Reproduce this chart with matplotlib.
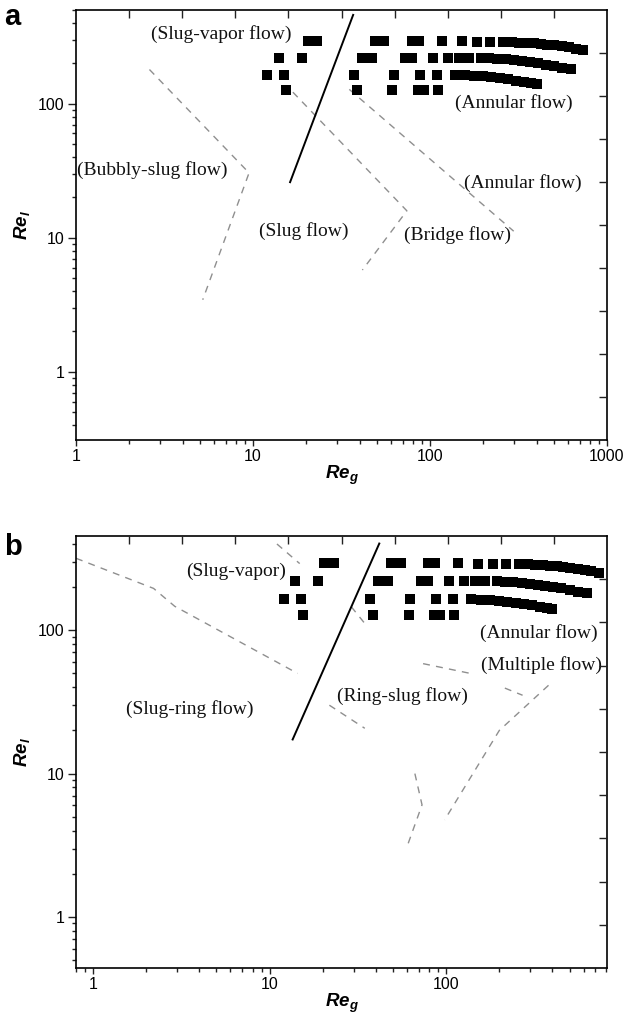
import numpy as np
import matplotlib
matplotlib.use("Agg")
import matplotlib.pyplot as plt
from matplotlib.ticker import FixedLocator, LogLocator, NullFormatter

plt.rcParams['font.family'] = ['Liberation Sans', 'DejaVu Sans']
plt.rcParams['mathtext.default'] = 'regular'

nan = np.nan

# measured points (Re_g, Re_l), same data on both maps
row1_reg = [20.4, 23.1, 48.9, 55.2, 79, 87, 117, 151, 184, 219, 260,
            290, 320, 352, 386, 422, 460, 505, 555, 610, 665, 730]
row1_rel = [294, 294, 294, 294, 294, 294, 293, 292, 291, 290, 289,
            288, 286, 284, 282, 279, 276, 272, 268, 263, 258, 252]
row2_reg = [14.0, 18.9, 41.3, 47.0, 72, 79, 104, 126, 146, 166, 195,
            215, 240, 268, 298, 330, 365, 405, 450, 500, 560, 630]
row2_rel = [221, 221, 221, 221, 221, 221, 221, 221, 221, 220, 219,
            218, 216, 214, 211, 208, 204, 200, 196, 191, 186, 181]
row3_reg = [12.0, 15.0, 37.2, 62.6, 87.7, 110, 138, 158,
            178, 198, 222, 248, 276, 306, 340, 372, 400]
row3_rel = [164, 164, 164, 164, 164, 164, 164, 163,
            162, 160, 158, 155, 152, 149, 146, 143, 140]
row4_reg = [15.4, 38.6, 61.3, 85, 92, 111]
row4_rel = [127, 127, 127, 127, 127, 127]

# panel a: transition boundaries
a_bubbly_reg = [2.6, 9.5, 5.2]
a_bubbly_rel = [180, 30.5, 3.45]
a_slug_reg = [16.8, 74, 41.5]
a_slug_rel = [122, 15.9, 5.75]
a_bridge_reg = [35, 297]
a_bridge_rel = [128, 11.2]
a_solid_reg = [16.2, 36.8]
a_solid_rel = [26, 460]

a_labels = ['(Slug-vapor flow)', '(Annular flow)', '(Bubbly-slug flow)',
            '(Annular flow)', '(Slug flow)', '(Bridge flow)']
a_label_reg = [6.6, 298, 2.71, 335, 19.4, 143]
a_label_rel = [330, 101, 31.9, 25.8, 11.3, 10.4]

# panel b: transition boundaries
b_ring_reg = [0.8, 2.2, 2.9, 14.4]
b_ring_rel = [318, 196, 147, 50]
b_vapor_reg = [11.0, 14.8, nan, 29, 36]
b_vapor_rel = [400, 292, nan, 146, 105]
b_ringslug_reg = [21.8, 34.6]
b_ringslug_rel = [30, 20.7]
b_multi_reg = [74, 145, nan, 215, 271]
b_multi_rel = [58.5, 49.3, nan, 39.5, 35.2]
b_multi2_reg = [380, 200, 98]
b_multi2_rel = [41.3, 20, 4.75]
b_v_reg = [66.5, 73, 59.5]
b_v_rel = [10, 6.05, 3.0]
b_solid_reg = [13.5, 41.8]
b_solid_rel = [17.3, 403]

b_labels = ['(Slug-vapor)', '(Annular flow)', '(Multiple flow)',
            '(Ring-slug flow)', '(Slug-ring flow)']
b_label_reg = [6.43, 336, 347, 56.4, 3.55]
b_label_rel = [259, 95, 57, 34.5, 28]

fig = plt.figure(figsize=(6.25, 10.25), dpi=100)


def frame_ticks(rect):
    # top / right axes of the original carry plain evenly spaced ticks
    ov = fig.add_axes(rect, facecolor='none')
    ov.set_xlim(0, 1)
    ov.set_ylim(0, 1)
    ov.xaxis.tick_top()
    ov.yaxis.tick_right()
    t = np.arange(1, 10) / 10
    ov.set_xticks(t)
    ov.set_yticks(t)
    ov.set_xticklabels([])
    ov.set_yticklabels([])
    ov.tick_params(direction='in', length=5.5, width=1, color='#222222')
    for s in ov.spines.values():
        s.set_visible(False)


def setup_axes(rect, xlim, ylim, xticks, tag, tag_y):
    ax = fig.add_axes(rect)
    ax.set_xscale('log')
    ax.set_yscale('log')
    ax.set_xlim(*xlim)
    ax.set_ylim(*ylim)
    ax.xaxis.set_major_locator(FixedLocator(xticks))
    ax.set_xticklabels([str(v) for v in xticks])
    ax.yaxis.set_major_locator(FixedLocator([1, 10, 100]))
    ax.set_yticklabels(['1', '10', '100'])
    for axis in (ax.xaxis, ax.yaxis):
        axis.set_minor_locator(LogLocator(base=10, subs=np.arange(2, 10)))
        axis.set_minor_formatter(NullFormatter())
    ax.tick_params(which='both', top=False, right=False, direction='out',
                   labelsize=11.5, width=1, color='#222222')
    ax.tick_params(axis='x', which='major', length=4.5, pad=2)
    ax.tick_params(axis='x', which='minor', length=3)
    ax.tick_params(axis='y', which='major', length=5.5, pad=3)
    ax.tick_params(axis='y', which='minor', length=3)
    for s in ax.spines.values():
        s.set_linewidth(1.2)
    ax.set_xlabel('Re$_g$', fontsize=13.5, fontweight='bold', style='italic', labelpad=0)
    ax.set_ylabel('Re$_l$', fontsize=13.5, fontweight='bold', style='italic', labelpad=4)
    frame_ticks(rect)
    fig.text(0.006, tag_y, tag, fontsize=21, fontweight='bold', va='baseline')
    return ax


def draw_points(ax):
    for xs, ys in [(row1_reg, row1_rel), (row2_reg, row2_rel),
                   (row3_reg, row3_rel), (row4_reg, row4_rel)]:
        ax.plot(xs, ys, 's', color='black', ms=6.5, mew=0, zorder=3)


def dashed(ax, xs, ys):
    ax.plot(xs, ys, color='#8f8f8f', lw=1.0, dashes=(5, 4.5), zorder=2)


def labels(ax, texts, xs, ys):
    for t, x, y in zip(texts, xs, ys):
        ax.text(x, y, t, fontsize=14, family=['Liberation Serif', 'DejaVu Serif'],
                ha='center', va='center', color='#111111', zorder=4)


# ---- panel a ----
ax_a = setup_axes([0.1216, 0.5707, 0.8496, 0.4195], (1, 1000), (0.31, 500),
                  [1, 10, 100, 1000], 'a', 1 - 25 / 1025)
draw_points(ax_a)
dashed(ax_a, a_bubbly_reg, a_bubbly_rel)
dashed(ax_a, a_slug_reg, a_slug_rel)
dashed(ax_a, a_bridge_reg, a_bridge_rel)
ax_a.plot(a_solid_reg, a_solid_rel, color='black', lw=1.4, zorder=3)
labels(ax_a, a_labels, a_label_reg, a_label_rel)

# ---- panel b ----
ax_b = setup_axes([0.1216, 0.0556, 0.8496, 0.4215], (0.8, 815), (0.44, 455),
                  [1, 10, 100], 'b', 1 - 555 / 1025)
draw_points(ax_b)
for xs, ys in [(b_ring_reg, b_ring_rel), (b_vapor_reg, b_vapor_rel),
               (b_ringslug_reg, b_ringslug_rel), (b_multi_reg, b_multi_rel),
               (b_multi2_reg, b_multi2_rel), (b_v_reg, b_v_rel)]:
    dashed(ax_b, xs, ys)
ax_b.plot(b_solid_reg, b_solid_rel, color='black', lw=1.4, zorder=3)
labels(ax_b, b_labels, b_label_reg, b_label_rel)

fig.savefig('out.png', dpi=100)
